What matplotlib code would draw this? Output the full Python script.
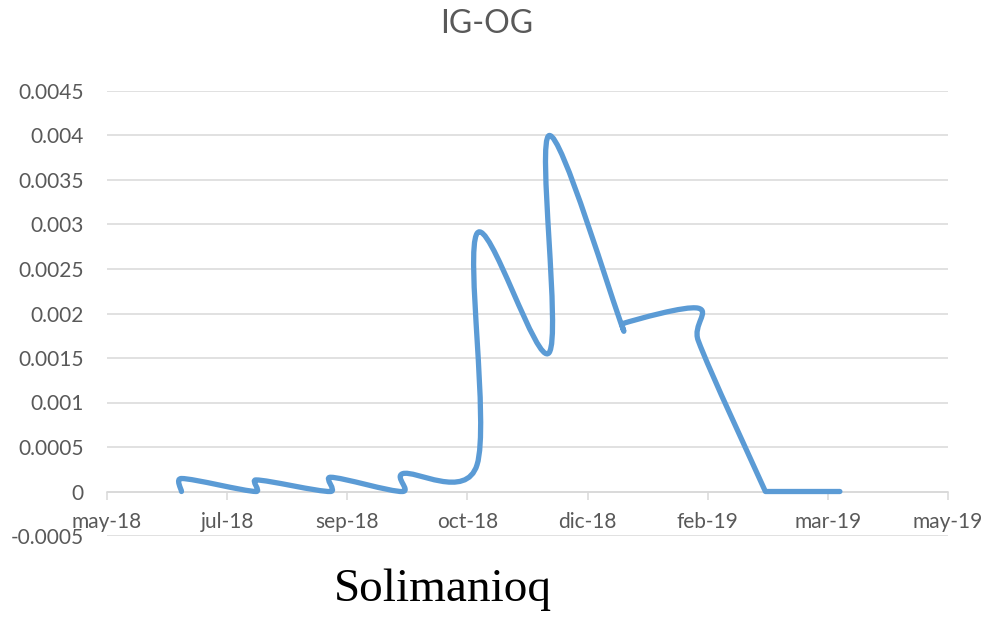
import datetime as dt
import numpy as np
import matplotlib
matplotlib.use('Agg')
import matplotlib.pyplot as plt
import matplotlib.dates as mdates
from matplotlib.path import Path
from matplotlib.patches import PathPatch
from matplotlib.ticker import FixedLocator, FuncFormatter

# month-end dates, two readings per month
fechas = ['2018-06-30', '2018-06-30', '2018-07-31', '2018-07-31',
          '2018-08-31', '2018-08-31', '2018-09-30', '2018-09-30',
          '2018-10-31', '2018-10-31', '2018-11-30', '2018-11-30',
          '2018-12-31', '2018-12-31', '2019-01-31', '2019-01-31',
          '2019-02-28', '2019-02-28', '2019-03-31', '2019-03-31']
valores = [0, 0.000146, 0, 0.00013,
           0, 0.00016, 0, 0.0002,
           0.0003, 0.0029, 0.00156, 0.004,
           0.00181, 0.00189, 0.00206, 0.0017,
           0, 0, 0, 0]
y_ticks = [-0.0005, 0, 0.0005, 0.001, 0.0015, 0.002, 0.0025, 0.003, 0.0035, 0.004, 0.0045]
meses = ['ene', 'feb', 'mar', 'abr', 'may', 'jun', 'jul', 'ago', 'sep', 'oct', 'nov', 'dic']

x = [mdates.date2num(dt.datetime.strptime(f, '%Y-%m-%d')) for f in fechas]
y = valores

plt.rcParams['font.family'] = ['Lato', 'DejaVu Sans']
fig = plt.figure(figsize=(9.87, 6.19), dpi=100)
ax = fig.add_axes([107 / 987, 1 - 536 / 619, (948 - 107) / 987, (536 - 91) / 619])

x0 = mdates.date2num(dt.datetime(2018, 5, 30))
ax.set_xlim(x0, x0 + 350)
ax.set_ylim(-0.0005, 0.0045)


def handle(v, d):
    # catmull-rom tangent, capped so short segments don't loop
    n = np.hypot(*v)
    if n > 0.5 * d:
        v = v * (0.5 * d / n)
    return v


# excel style smoothed line, control points worked out in pixel space
pix = ax.transData.transform(np.column_stack([x, y]))
ext = np.vstack([pix[0], pix, pix[-1]])
verts = [pix[0]]
codes = [Path.MOVETO]
for i in range(1, len(ext) - 2):
    p0, p1, p2, p3 = ext[i - 1], ext[i], ext[i + 1], ext[i + 2]
    d12 = np.hypot(*(p2 - p1))
    c1 = p1 + handle((p2 - p0) / 6, d12)
    c2 = p2 - handle((p3 - p1) / 6, d12)
    verts += [c1, c2, p2]
    codes += [Path.CURVE4] * 3
verts = ax.transData.inverted().transform(np.array(verts))

ax.add_patch(PathPatch(Path(verts, codes), fill=False, edgecolor='#5b9bd5',
                       lw=3.8, capstyle='round', joinstyle='round', zorder=3))

ax.xaxis.set_major_locator(FixedLocator([x0 + 50 * k for k in range(8)]))

def fmt_fecha(v, pos):
    d = mdates.num2date(v)
    return '{}-{:%y}'.format(meses[d.month - 1], d)

ax.xaxis.set_major_formatter(FuncFormatter(fmt_fecha))
ax.yaxis.set_major_locator(FixedLocator(y_ticks))
ax.yaxis.set_major_formatter(FuncFormatter(lambda v, p: '%g' % round(v, 6)))

ax.grid(axis='y', color='#d9d9d9', lw=1.1)
ax.set_axisbelow(True)
for s in ['left', 'right', 'top']:
    ax.spines[s].set_visible(False)
ax.spines['bottom'].set_position(('data', 0))
ax.spines['bottom'].set_color('#d9d9d9')
ax.spines['bottom'].set_linewidth(1.1)
ax.tick_params(axis='x', direction='out', length=5.5, width=1.1, color='#d9d9d9',
               labelcolor='#595959', labelsize=15, pad=9)
ax.tick_params(axis='y', length=0, labelcolor='#595959', labelsize=15, pad=17)

fig.text(0.4934, 1 - 24 / 619, 'IG-OG', ha='center', va='center', fontsize=23, color='#595959')
fig.text(443 / 987, 1 - 601 / 619, 'Solimanioq', ha='center', va='baseline',
         fontsize=34, color='black', family='Liberation Serif')

fig.savefig('out.png', dpi=100)
